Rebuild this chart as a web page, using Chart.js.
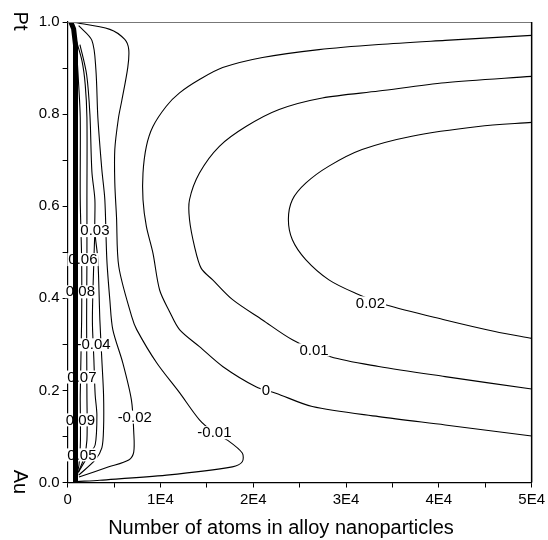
<!DOCTYPE html>
<html><head><meta charset="utf-8">
<script src="https://cdn.jsdelivr.net/npm/chart.js@4.4.0/dist/chart.umd.min.js"></script>
<style>html,body{margin:0;padding:0;background:#fff;}canvas{display:block;}</style>
</head><body>
<canvas id="c" width="548" height="540"></canvas>
<script>
// ---- axis / text data ----
const xTickValues = [0, 10000, 20000, 30000, 40000, 50000];
const xTickLabels = ['0', '1E4', '2E4', '3E4', '4E4', '5E4'];
const xMinorValues = [5000, 15000, 25000, 35000, 45000];
const yTickValues = [0, 0.2, 0.4, 0.6, 0.8, 1.0];
const yTickLabels = ['0.0', '0.2', '0.4', '0.6', '0.8', '1.0'];
const yMinorValues = [0.1, 0.3, 0.5, 0.7, 0.9];
const xTitle = 'Number of atoms in alloy nanoparticles';
const yTopLabel = 'Pt';
const yBottomLabel = 'Au';

// ---- contour lines (x = atoms, y = composition) ----
const c002X = [50000, 44250, 37094, 31729, 28156, 25655, 24218, 23788, 24218, 25655, 28156, 31020, 34240, 40677, 46042, 50000];
const c002Y = [0.782, 0.773, 0.752, 0.723, 0.687, 0.650, 0.614, 0.571, 0.527, 0.484, 0.440, 0.411, 0.386, 0.353, 0.328, 0.313];

const c001X = [50000, 40677, 33520, 27437, 22790, 19217, 16352, 14207, 13134, 13134, 13670, 14400, 15634, 17780, 20999, 24218, 28338, 33520, 40677, 50000];
const c001Y = [0.882, 0.868, 0.850, 0.835, 0.810, 0.773, 0.730, 0.672, 0.614, 0.571, 0.513, 0.465, 0.440, 0.397, 0.353, 0.310, 0.273, 0.252, 0.230, 0.203];

const c000X = [50000, 40677, 33520, 27083, 20999, 16707, 14207, 12061, 10633, 9196, 8487, 8123, 8123, 8487, 9196, 9915, 10988, 12061, 14207, 16707, 20290, 22436, 26364, 33520, 40677, 50000];
const c000Y = [0.971, 0.960, 0.951, 0.940, 0.923, 0.901, 0.875, 0.846, 0.817, 0.773, 0.730, 0.672, 0.614, 0.556, 0.498, 0.418, 0.371, 0.332, 0.295, 0.252, 0.208, 0.194, 0.165, 0.143, 0.125, 0.101];

const cm001X = [472, 4550, 6159, 6588, 6481, 5837, 5483, 5086, 5086, 5268, 5515, 6910, 7447, 9593, 12061, 14207, 15816, 17211, 18820, 18820, 17747, 10666, 3477, 1009];
const cm001Y = [1.0, 0.984, 0.962, 0.940, 0.901, 0.829, 0.792, 0.723, 0.651, 0.577, 0.469, 0.360, 0.332, 0.260, 0.195, 0.136, 0.108, 0.092, 0.064, 0.045, 0.034, 0.016, 0.005, 0.002];

const cm002X = [1191, 2618, 3047, 3262, 3691, 4013, 4228, 4550, 4871, 5944, 6878, 7125, 7125, 6588, 4442, 1223];
const cm002Y = [0.992, 0.960, 0.897, 0.792, 0.679, 0.614, 0.484, 0.397, 0.332, 0.260, 0.179, 0.110, 0.066, 0.049, 0.034, 0.012];

const cAX = [687, 1009, 1191, 1363, 1363, 1513, 1513, 1363, 1384, 1223, 901];
const cAY = [0.984, 0.923, 0.864, 0.792, 0.614, 0.484, 0.353, 0.190, 0.092, 0.038, 0.010];

const cBX = [901, 1545, 1899, 2082, 2082, 2082, 2049, 2082, 2082, 1760, 1009];
const cBY = [0.962, 0.916, 0.864, 0.792, 0.614, 0.484, 0.353, 0.190, 0.092, 0.053, 0.016];

const cCX = [1330, 2049, 2404, 2618, 2940, 2940, 3262, 3477, 3691, 3874, 3874, 3691, 2972, 1191];
const cCY = [0.951, 0.886, 0.799, 0.675, 0.614, 0.545, 0.484, 0.353, 0.266, 0.190, 0.118, 0.075, 0.049, 0.016];

const cDX = [2940, 2833, 2672, 2833, 2972, 3155, 2972, 2264, 1191];
const cDY = [0.545, 0.484, 0.353, 0.266, 0.190, 0.147, 0.082, 0.060, 0.023];

const thickX = [850, 850, 650, 350];
const thickY = [0, 0.95, 0.985, 1.0];

// ---- contour labels ----
const labelText = ['0.02', '0.01', '0', '-0.01', '-0.02', '0.03', '0.06', '0.08', '-0.04', '0.07', '0.09', '0.05'];
const labelX = [32630, 26546, 21363, 15816, 7232, 2940, 1652, 1384, 2800, 1545, 1384, 1545];
const labelY = [0.390, 0.288, 0.201, 0.108, 0.142, 0.547, 0.484, 0.414, 0.299, 0.229, 0.136, 0.060];

const FONT = '"Liberation Sans", Arial, sans-serif';

function line(xs, ys, w, tension) {
  return {
    data: xs.map((x, i) => ({ x: x, y: ys[i] })),
    showLine: true, borderColor: '#000', backgroundColor: '#000',
    borderWidth: w, pointRadius: 0, tension: tension, fill: false,
    borderJoinStyle: 'round', borderCapStyle: 'butt'
  };
}

const deco = {
  id: 'deco',
  beforeDatasetDraw(chart, args) {
    if (args.index !== 0) return;
    const ctx = chart.ctx, xs = chart.scales.x, ys = chart.scales.y;
    ctx.save();
    ctx.font = '15px ' + FONT;
    ctx.textAlign = 'center';
    ctx.textBaseline = 'middle';
    for (let i = 0; i < labelText.length; i++) {
      const px = xs.getPixelForValue(labelX[i]);
      const py = ys.getPixelForValue(labelY[i]);
      const w = ctx.measureText(labelText[i]).width;
      ctx.fillStyle = '#fff';
      ctx.fillRect(px - w / 2 - 1, py - 6.5, w + 2, 13);
      ctx.fillStyle = '#000';
      ctx.fillText(labelText[i], px, py + 0.5);
    }
    ctx.restore();
  },
  afterDraw(chart) {
    const ctx = chart.ctx, a = chart.chartArea;
    ctx.save();
    ctx.strokeStyle = '#777';
    ctx.lineWidth = 1;
    ctx.beginPath(); ctx.moveTo(a.left, a.top + 0.5); ctx.lineTo(a.right, a.top + 0.5); ctx.stroke();
    ctx.strokeStyle = '#000';
    ctx.lineWidth = 1.5;
    ctx.beginPath(); ctx.moveTo(a.right, a.top); ctx.lineTo(a.right, a.bottom); ctx.stroke();
    ctx.fillStyle = '#000';
    ctx.font = '20px ' + FONT;
    ctx.textAlign = 'center';
    ctx.textBaseline = 'alphabetic';
    ctx.fillText(xTitle, 281, 534);
    ctx.textBaseline = 'middle';
    ctx.save(); ctx.translate(20, 21); ctx.rotate(Math.PI / 2); ctx.fillText(yTopLabel, 0, 0); ctx.restore();
    ctx.save(); ctx.translate(20, 482); ctx.rotate(Math.PI / 2); ctx.fillText(yBottomLabel, 0, 0); ctx.restore();
    ctx.restore();
  }
};

const allX = xTickValues.concat(xMinorValues).sort((a, b) => a - b);
const allY = yTickValues.concat(yMinorValues).sort((a, b) => a - b);

new Chart(document.getElementById('c'), {
  type: 'scatter',
  data: {
    datasets: [
      line(thickX, thickY, 5, 0),
      line(c002X, c002Y, 1.1, 0.3),
      line(c001X, c001Y, 1.1, 0.3),
      line(c000X, c000Y, 1.1, 0.3),
      line(cm001X, cm001Y, 1.1, 0.3),
      line(cm002X, cm002Y, 1.1, 0.3),
      line(cAX, cAY, 1.1, 0.3),
      line(cBX, cBY, 1.1, 0.3),
      line(cCX, cCY, 1.1, 0.3),
      line(cDX, cDY, 1.1, 0.3)
    ]
  },
  options: {
    responsive: false, animation: false, events: [],
    layout: { padding: { top: 22, right: 16, left: 0, bottom: 0 } },
    plugins: { legend: { display: false }, tooltip: { enabled: false }, title: { display: false } },
    scales: {
      x: {
        type: 'linear', min: 0, max: 50000, position: 'bottom',
        afterBuildTicks: s => { s.ticks = allX.map(v => ({ value: v })); },
        afterFit: s => { s.height = 57.5; },
        ticks: {
          autoSkip: false, maxRotation: 0, color: '#000', padding: 3,
          font: { family: FONT, size: 15 },
          callback: v => { const i = xTickValues.indexOf(v); return i >= 0 ? xTickLabels[i] : ''; }
        },
        grid: { drawOnChartArea: false, drawTicks: true, tickLength: 5, color: '#000' },
        border: { display: true, color: '#000', width: 1.2 }
      },
      y: {
        type: 'linear', min: 0, max: 1, position: 'left',
        afterBuildTicks: s => { s.ticks = allY.map(v => ({ value: v })); },
        afterFit: s => { s.width = 67.6; },
        ticks: {
          autoSkip: false, color: '#000', padding: 3,
          font: { family: FONT, size: 15 },
          callback: v => { const i = yTickValues.findIndex(t => Math.abs(t - v) < 1e-6); return i >= 0 ? yTickLabels[i] : ''; }
        },
        grid: { drawOnChartArea: false, drawTicks: true, tickLength: 5, color: '#000' },
        border: { display: true, color: '#000', width: 1.2 }
      }
    }
  },
  plugins: [deco]
});
</script>
</body></html>
